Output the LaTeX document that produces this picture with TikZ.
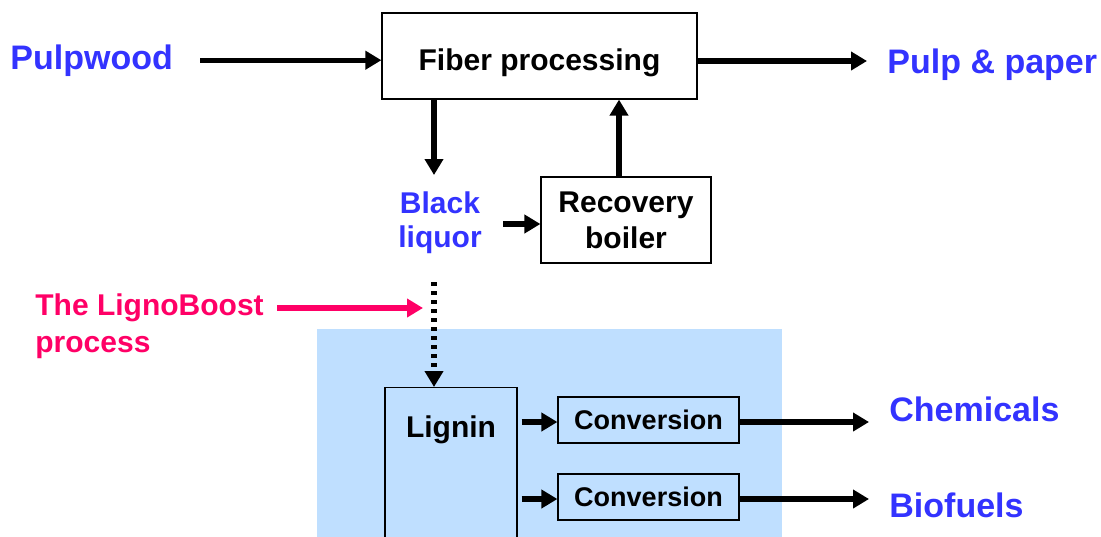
\documentclass[tikz,border=0pt]{standalone}
\usepackage{fontspec}
\setmainfont{Liberation Sans}
\usetikzlibrary{arrows.meta}
\definecolor{outblue}{HTML}{3333FF}
\definecolor{lbpink}{HTML}{FF0066}
\definecolor{lbback}{HTML}{BFDFFF}

\begin{document}
\begin{tikzpicture}[x=0.5pt,y=-0.5pt,
        box/.style={draw,line width=0.6pt,inner sep=0pt,align=center,font=\fontsize{15}{18}\selectfont\bfseries},
        product/.style={inner sep=0pt,anchor=base west,text=outblue,font=\fontsize{17}{20}\selectfont\bfseries},
        flow/.style={line width=2.6pt,-{Triangle[length=8pt,width=9pt]}}]
        \useasboundingbox (0,0) rectangle (1101,536);
        \clip (0,0) rectangle (1101,536);
        \fill[lbback] (317,329) rectangle (782,560);

        \node[box,minimum width=157.5pt,minimum height=43pt,text height=14pt,text depth=0pt] (fiber) at (539.5,56) {Fiber processing};
        \node[box,minimum width=85pt,minimum height=43pt,text depth=0pt] (recovery) at (626,220) {Recovery\\boiler};
        \node[box,draw=none,anchor=north,text=outblue,font=\fontsize{15}{17}\selectfont\bfseries] (liquor) at (440,191) {Black\\liquor};
        \node[box,minimum width=66pt,minimum height=90pt,anchor=north,label={[anchor=center,yshift=-21.5pt,font=\fontsize{15}{18}\selectfont\bfseries]north:Lignin}] (lignin) at (451,387) {};
        \node[box,minimum width=90.5pt,minimum height=23pt,font=\fontsize{13.5}{16}\selectfont\bfseries] (conv1) at (648.5,420) {Conversion};
        \node[box,minimum width=90.5pt,minimum height=23pt,font=\fontsize{13.5}{16}\selectfont\bfseries] (conv2) at (648.5,497) {Conversion};

        \node[product] (pulpwood) at (10,69) {Pulpwood};
        \node[product] (pulppaper) at (887,73) {Pulp \& paper};
        \node[product] (chemicals) at (889,421) {Chemicals};
        \node[product] (biofuels) at (889,517) {Biofuels};
        \node[inner sep=0pt,anchor=north west,align=left,text=lbpink,font=\fontsize{15}{18.5}\selectfont\bfseries] (ligno) at (35,293) {The LignoBoost\\process};

        \coordinate (fiberout) at ([yshift=-2.5pt]fiber.east);
        \coordinate (recin) at ([yshift=-2pt]recovery.west);
        \coordinate (lbout) at ([xshift=6.5pt,yshift=-7.5pt]ligno.north east);
        \coordinate (conv1out) at ([yshift=-1pt]conv1.east);
        \coordinate (conv2out) at ([yshift=-1pt]conv2.east);

        % main line
        \draw[flow] ([xshift=13.5pt]pulpwood.east) -- (pulpwood.east -| fiber.west);
        \draw[flow] (fiberout) -- ([xshift=-10pt]pulppaper.west |- fiberout);
        \draw[flow] ([xshift=-3pt]liquor.north |- fiber.south) -- ([xshift=-3pt,yshift=8pt]liquor.north);
        \draw[flow] ([xshift=10.5pt]liquor.east |- recin) -- (recin);
        \draw[flow] ([xshift=-3.5pt]recovery.north) -- ([xshift=-3.5pt]recovery.north |- fiber.south);

        % lignoboost
        \draw[flow,lbpink] (lbout) -- ([xshift=-8.5pt]liquor.south |- lbout);
        \draw[flow,dash pattern=on 2pt off 2.5pt] ([xshift=-3pt,yshift=-14pt]liquor.south) -- ([xshift=-3pt]liquor.south |- lignin.north);
        \draw[flow] ([xshift=2pt]lignin.east |- conv1out) -- ([yshift=-1pt]conv1.west);
        \draw[flow] ([xshift=2pt]lignin.east |- conv2out) -- ([yshift=-1pt]conv2.west);
        \draw[flow] (conv1out) -- ([xshift=-10pt]chemicals.west |- conv1out);
        \draw[flow] (conv2out) -- ([xshift=-10pt]biofuels.west |- conv2out);
    \end{tikzpicture}
\end{document}
